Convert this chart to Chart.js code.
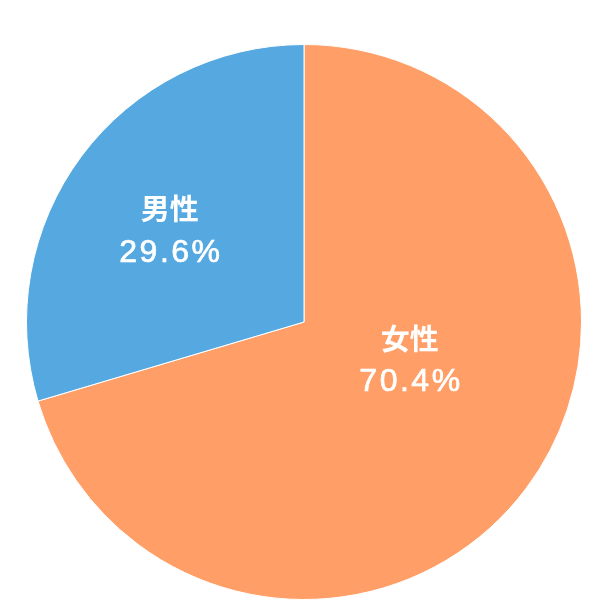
<!DOCTYPE html>
<html>
<head>
<meta charset="utf-8">
<script src="https://cdn.jsdelivr.net/npm/chart.js@4"></script>
<style>
  html, body { margin: 0; padding: 0; background: #fff; }
  #wrap { width: 592px; height: 600px; }
</style>
</head>
<body>
<div id="wrap"><canvas id="myChart" width="592" height="600"></canvas></div>
<script>
const labels = ["女性", "男性"];
const values = [70.4, 29.6];
const colors = ["#FF9E66", "#55A9E0"];

// where each label sits, as a fraction of the radius from the centre
const labelSpots = [[0.381, 0.138], [-0.484, -0.329]];

const pieLabels = {
  id: "pieLabels",
  afterDatasetsDraw(chart) {
    const ctx = chart.ctx;
    const arcs = chart.getDatasetMeta(0).data;
    ctx.save();
    ctx.fillStyle = "#fff";
    ctx.strokeStyle = "#fff";
    ctx.lineWidth = 0.7;
    ctx.textAlign = "center";
    ctx.textBaseline = "middle";
    arcs.forEach((arc, i) => {
      const r = arc.outerRadius;
      const x = arc.x + labelSpots[i][0] * r;
      const y = arc.y + labelSpots[i][1] * r;
      ctx.font = "bold 29px 'Noto Sans CJK JP', sans-serif";
      ctx.letterSpacing = "0px";
      ctx.fillText(labels[i], x, y - 21.5);
      const pct = values[i].toFixed(1) + "%";
      ctx.font = "32px 'Liberation Sans', sans-serif";
      ctx.letterSpacing = "2.5px";
      ctx.fillText(pct, x + 1.25, y + 22);
      ctx.strokeText(pct, x + 1.25, y + 22);
    });
    ctx.restore();
  }
};

new Chart("myChart", {
  type: "pie",
  data: {
    labels: labels,
    datasets: [{
      data: values,
      backgroundColor: colors,
      borderColor: "#fff",
      borderWidth: 1
    }]
  },
  options: {
    responsive: false,
    animation: false,
    layout: { padding: { top: 44, bottom: 0, left: 26, right: 10 } },
    plugins: {
      legend: { display: false },
      tooltip: { enabled: false }
    }
  },
  plugins: [pieLabels]
});
</script>
</body>
</html>
